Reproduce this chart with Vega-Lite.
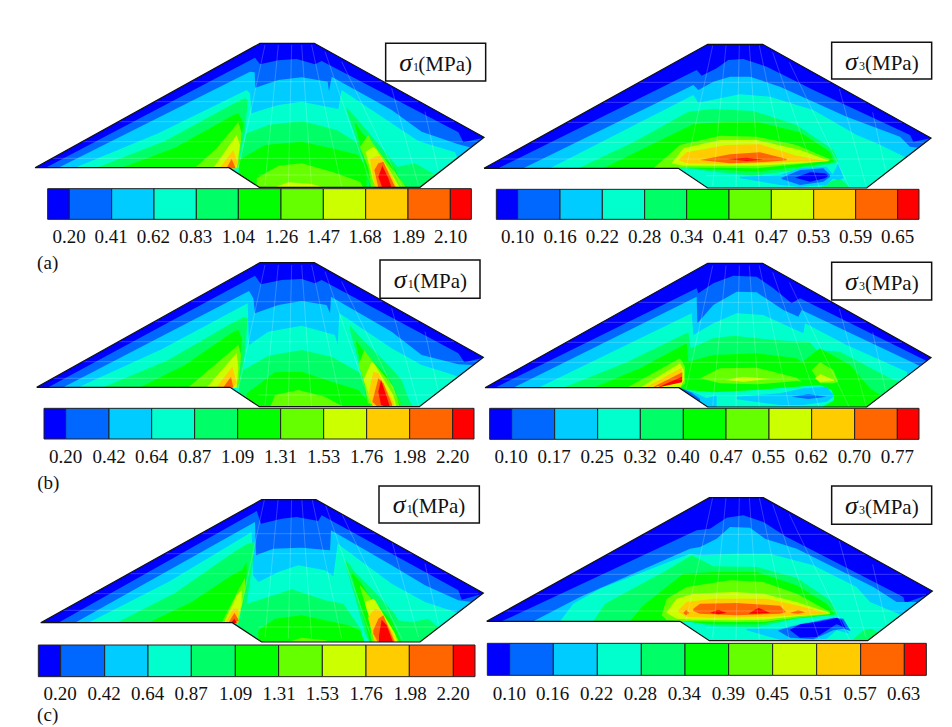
{"$schema":"https://vega.github.io/schema/vega-lite/v6.json","width":952,"height":727,"padding":0,"autosize":{"type":"none"},"background":"white","config":{"view":{"stroke":null}},
"datasets":{
"m1":[{"x":497,"y":140,"x2":1073,"y2":140},{"x":388,"y":200,"x2":1180,"y2":200},{"x":280,"y":260,"x2":1288,"y2":260},{"x":171,"y":320,"x2":1360,"y2":320},{"x":80,"y":370,"x2":1296,"y2":370},{"x":700,"y":420,"x2":1230,"y2":420},{"x":720,"y":30,"x2":640,"y2":400},{"x":760,"y":30,"x2":720,"y2":450},{"x":800,"y":30,"x2":790,"y2":455},{"x":830,"y":30,"x2":860,"y2":455},{"x":860,"y":30,"x2":950,"y2":455},{"x":900,"y":50,"x2":1040,"y2":455},{"x":950,"y":80,"x2":1130,"y2":455},{"x":1100,"y":160,"x2":1180,"y2":450},{"x":1200,"y":230,"x2":1240,"y2":410}],
"m3":[{"x":475,"y":142,"x2":1051,"y2":142},{"x":366,"y":202,"x2":1158,"y2":202},{"x":258,"y":262,"x2":1266,"y2":262},{"x":149,"y":322,"x2":1338,"y2":322},{"x":58,"y":372,"x2":1274,"y2":372},{"x":678,"y":422,"x2":1208,"y2":422},{"x":698,"y":32,"x2":618,"y2":402},{"x":738,"y":32,"x2":698,"y2":452},{"x":778,"y":32,"x2":768,"y2":457},{"x":808,"y":32,"x2":838,"y2":457},{"x":838,"y":32,"x2":928,"y2":457},{"x":878,"y":52,"x2":1018,"y2":457},{"x":928,"y":82,"x2":1108,"y2":457},{"x":1078,"y":162,"x2":1158,"y2":452},{"x":1178,"y":232,"x2":1218,"y2":412}],
"a1":[
{"id":0,"b":0,"x":30,"y":398,"y2":460},{"id":0,"b":0,"x":705,"y":25,"y2":460},{"id":0,"b":0,"x":868,"y":25,"y2":460},{"id":0,"b":0,"x":1377,"y":307,"y2":460},
{"id":1,"b":1,"x":62,"y":398,"y2":460},{"id":1,"b":1,"x":690,"y":68,"y2":460},{"id":1,"b":1,"x":705,"y":88,"y2":460},{"id":1,"b":1,"x":760,"y":76,"y2":460},{"id":1,"b":1,"x":815,"y":72,"y2":460},{"id":1,"b":1,"x":870,"y":88,"y2":460},{"id":1,"b":1,"x":890,"y":78,"y2":460},{"id":1,"b":1,"x":1300,"y":292,"y2":460},{"id":1,"b":1,"x":1315,"y":322,"y2":460},{"id":1,"b":1,"x":1377,"y":308,"y2":460},
{"id":2,"b":2,"x":100,"y":398,"y2":460},{"id":2,"b":2,"x":675,"y":110,"y2":460},{"id":2,"b":2,"x":689,"y":112,"y2":460},{"id":2,"b":2,"x":691,"y":158,"y2":460},{"id":2,"b":2,"x":760,"y":135,"y2":460},{"id":2,"b":2,"x":830,"y":127,"y2":460},{"id":2,"b":2,"x":908,"y":140,"y2":460},{"id":2,"b":2,"x":912,"y":168,"y2":460},{"id":2,"b":2,"x":920,"y":125,"y2":460},{"id":2,"b":2,"x":1100,"y":225,"y2":460},{"id":2,"b":2,"x":1190,"y":290,"y2":460},{"id":2,"b":2,"x":1300,"y":328,"y2":460},{"id":2,"b":2,"x":1340,"y":338,"y2":460},
{"id":3,"b":3,"x":150,"y":398,"y2":460},{"id":3,"b":3,"x":400,"y":295,"y2":460},{"id":3,"b":3,"x":665,"y":165,"y2":460},{"id":3,"b":3,"x":675,"y":175,"y2":460},{"id":3,"b":3,"x":680,"y":235,"y2":460},{"id":3,"b":3,"x":760,"y":210,"y2":460},{"id":3,"b":3,"x":830,"y":200,"y2":460},{"id":3,"b":3,"x":940,"y":222,"y2":460},{"id":3,"b":3,"x":950,"y":165,"y2":460},{"id":3,"b":3,"x":1180,"y":318,"y2":460},{"id":3,"b":3,"x":1290,"y":352,"y2":460},{"id":3,"b":3,"x":1300,"y":375,"y2":460},
{"id":4,"b":4,"x":215,"y":398,"y2":460},{"id":4,"b":4,"x":420,"y":318,"y2":460},{"id":4,"b":4,"x":625,"y":206,"y2":400},{"id":4,"b":4,"x":640,"y":199,"y2":380},{"id":4,"b":4,"x":660,"y":190,"y2":290},{"id":4,"b":4,"x":668,"y":195,"y2":200},
{"id":5,"b":4,"x":640,"y":380,"y2":458},{"id":5,"b":4,"x":665,"y":295,"y2":458},{"id":5,"b":4,"x":730,"y":270,"y2":458},{"id":5,"b":4,"x":830,"y":258,"y2":458},{"id":5,"b":4,"x":935,"y":285,"y2":458},{"id":5,"b":4,"x":1000,"y":325,"y2":458},{"id":5,"b":4,"x":1040,"y":375,"y2":458},
{"id":6,"b":4,"x":965,"y":218,"y2":225},{"id":6,"b":4,"x":990,"y":245,"y2":300},{"id":6,"b":4,"x":1005,"y":262,"y2":345},{"id":6,"b":4,"x":1100,"y":375,"y2":458},{"id":6,"b":4,"x":1118,"y":395,"y2":458},{"id":6,"b":4,"x":1170,"y":385,"y2":458},{"id":6,"b":4,"x":1232,"y":420,"y2":458},
{"id":7,"b":5,"x":290,"y":398,"y2":460},{"id":7,"b":5,"x":450,"y":338,"y2":460},{"id":7,"b":5,"x":600,"y":254,"y2":400},{"id":7,"b":5,"x":625,"y":240,"y2":395},{"id":7,"b":5,"x":640,"y":235,"y2":370},{"id":7,"b":5,"x":655,"y":265,"y2":270},
{"id":8,"b":5,"x":642,"y":375,"y2":458},{"id":8,"b":5,"x":720,"y":330,"y2":458},{"id":8,"b":5,"x":830,"y":320,"y2":458},{"id":8,"b":5,"x":930,"y":342,"y2":458},{"id":8,"b":5,"x":1000,"y":360,"y2":458},{"id":8,"b":5,"x":1025,"y":400,"y2":458},
{"id":9,"b":5,"x":990,"y":262,"y2":270},{"id":9,"b":5,"x":1005,"y":285,"y2":330},{"id":9,"b":5,"x":1025,"y":310,"y2":410},{"id":9,"b":5,"x":1035,"y":325,"y2":458},{"id":9,"b":5,"x":1105,"y":395,"y2":458},{"id":9,"b":5,"x":1130,"y":440,"y2":458},{"id":9,"b":5,"x":1150,"y":458,"y2":458},
{"id":10,"b":6,"x":695,"y":430,"y2":458},{"id":10,"b":6,"x":760,"y":392,"y2":458},{"id":10,"b":6,"x":830,"y":385,"y2":458},{"id":10,"b":6,"x":920,"y":410,"y2":458},{"id":10,"b":6,"x":1005,"y":440,"y2":458},{"id":10,"b":6,"x":1015,"y":458,"y2":458},
{"id":11,"b":6,"x":510,"y":398,"y2":400},{"id":11,"b":6,"x":575,"y":340,"y2":400},{"id":11,"b":6,"x":640,"y":262,"y2":400},{"id":11,"b":6,"x":650,"y":295,"y2":295},
{"id":12,"b":6,"x":1005,"y":335,"y2":335},{"id":12,"b":6,"x":1030,"y":300,"y2":400},{"id":12,"b":6,"x":1040,"y":320,"y2":458},{"id":12,"b":6,"x":1100,"y":400,"y2":458},{"id":12,"b":6,"x":1145,"y":458,"y2":458},
{"id":13,"b":7,"x":745,"y":458,"y2":458},{"id":13,"b":7,"x":790,"y":442,"y2":458},{"id":13,"b":7,"x":860,"y":447,"y2":458},{"id":13,"b":7,"x":900,"y":458,"y2":458},
{"id":14,"b":7,"x":565,"y":398,"y2":400},{"id":14,"b":7,"x":635,"y":300,"y2":400},{"id":14,"b":7,"x":645,"y":330,"y2":330},
{"id":15,"b":7,"x":1022,"y":350,"y2":350},{"id":15,"b":7,"x":1045,"y":335,"y2":440},{"id":15,"b":7,"x":1055,"y":345,"y2":458},{"id":15,"b":7,"x":1090,"y":400,"y2":458},{"id":15,"b":7,"x":1125,"y":458,"y2":458},
{"id":16,"b":8,"x":585,"y":398,"y2":400},{"id":16,"b":8,"x":625,"y":345,"y2":400},{"id":16,"b":8,"x":638,"y":385,"y2":385},
{"id":17,"b":8,"x":1035,"y":372,"y2":372},{"id":17,"b":8,"x":1050,"y":365,"y2":458},{"id":17,"b":8,"x":1065,"y":362,"y2":458},{"id":17,"b":8,"x":1100,"y":420,"y2":458},{"id":17,"b":8,"x":1115,"y":458,"y2":458},
{"id":18,"b":9,"x":605,"y":398,"y2":400},{"id":18,"b":9,"x":620,"y":372,"y2":400},{"id":18,"b":9,"x":632,"y":400,"y2":400},
{"id":19,"b":9,"x":1048,"y":405,"y2":405},{"id":19,"b":9,"x":1060,"y":385,"y2":458},{"id":19,"b":9,"x":1075,"y":380,"y2":458},{"id":19,"b":9,"x":1105,"y":445,"y2":458},{"id":19,"b":9,"x":1112,"y":458,"y2":458},
{"id":20,"b":10,"x":1060,"y":425,"y2":425},{"id":20,"b":10,"x":1072,"y":392,"y2":458},{"id":20,"b":10,"x":1090,"y":430,"y2":458},{"id":20,"b":10,"x":1100,"y":458,"y2":458}
],
"a3":[
{"id":0,"b":0,"x":12,"y":400,"y2":462},{"id":0,"b":0,"x":683,"y":28,"y2":462},{"id":0,"b":0,"x":848,"y":28,"y2":462},{"id":0,"b":0,"x":1353,"y":309,"y2":462},
{"id":1,"b":1,"x":55,"y":400,"y2":462},{"id":1,"b":1,"x":650,"y":105,"y2":462},{"id":1,"b":1,"x":665,"y":122,"y2":462},{"id":1,"b":1,"x":710,"y":100,"y2":462},{"id":1,"b":1,"x":745,"y":75,"y2":462},{"id":1,"b":1,"x":790,"y":72,"y2":462},{"id":1,"b":1,"x":860,"y":95,"y2":462},{"id":1,"b":1,"x":1000,"y":165,"y2":462},{"id":1,"b":1,"x":1290,"y":300,"y2":462},{"id":1,"b":1,"x":1300,"y":320,"y2":462},{"id":1,"b":1,"x":1353,"y":310,"y2":462},
{"id":2,"b":2,"x":130,"y":400,"y2":462},{"id":2,"b":2,"x":640,"y":150,"y2":462},{"id":2,"b":2,"x":655,"y":165,"y2":462},{"id":2,"b":2,"x":700,"y":140,"y2":462},{"id":2,"b":2,"x":750,"y":125,"y2":462},{"id":2,"b":2,"x":810,"y":125,"y2":462},{"id":2,"b":2,"x":900,"y":155,"y2":462},{"id":2,"b":2,"x":1100,"y":245,"y2":462},{"id":2,"b":2,"x":1260,"y":305,"y2":462},{"id":2,"b":2,"x":1290,"y":335,"y2":462},{"id":2,"b":2,"x":1315,"y":338,"y2":462},
{"id":3,"b":3,"x":210,"y":400,"y2":462},{"id":3,"b":3,"x":640,"y":180,"y2":462},{"id":3,"b":3,"x":655,"y":203,"y2":462},{"id":3,"b":3,"x":720,"y":190,"y2":462},{"id":3,"b":3,"x":780,"y":178,"y2":462},{"id":3,"b":3,"x":870,"y":185,"y2":462},{"id":3,"b":3,"x":1000,"y":225,"y2":462},{"id":3,"b":3,"x":1130,"y":300,"y2":462},{"id":3,"b":3,"x":1190,"y":325,"y2":462},{"id":3,"b":3,"x":1280,"y":368,"y2":462},
{"id":4,"b":4,"x":295,"y":400,"y2":400},{"id":4,"b":4,"x":460,"y":322,"y2":400},{"id":4,"b":4,"x":625,"y":230,"y2":400},{"id":4,"b":4,"x":700,"y":222,"y2":410},{"id":4,"b":4,"x":820,"y":228,"y2":422},{"id":4,"b":4,"x":950,"y":270,"y2":405},{"id":4,"b":4,"x":1060,"y":345,"y2":385},{"id":4,"b":4,"x":1075,"y":380,"y2":380},
{"id":5,"b":4,"x":1020,"y":458,"y2":458},{"id":5,"b":4,"x":1050,"y":440,"y2":458},{"id":5,"b":4,"x":1080,"y":430,"y2":458},{"id":5,"b":4,"x":1110,"y":458,"y2":458},
{"id":6,"b":2,"x":1055,"y":425,"y2":430},{"id":6,"b":2,"x":1075,"y":385,"y2":435},{"id":6,"b":2,"x":1090,"y":425,"y2":430},
{"id":7,"b":5,"x":370,"y":400,"y2":400},{"id":7,"b":5,"x":590,"y":292,"y2":400},{"id":7,"b":5,"x":640,"y":268,"y2":400},{"id":7,"b":5,"x":740,"y":260,"y2":406},{"id":7,"b":5,"x":830,"y":260,"y2":410},{"id":7,"b":5,"x":960,"y":292,"y2":395},{"id":7,"b":5,"x":1050,"y":350,"y2":384},{"id":7,"b":5,"x":1062,"y":380,"y2":380},
{"id":8,"b":6,"x":520,"y":400,"y2":400},{"id":8,"b":6,"x":600,"y":330,"y2":398},{"id":8,"b":6,"x":720,"y":302,"y2":398},{"id":8,"b":6,"x":830,"y":305,"y2":400},{"id":8,"b":6,"x":950,"y":330,"y2":388},{"id":8,"b":6,"x":1048,"y":372,"y2":378},
{"id":9,"b":7,"x":575,"y":385,"y2":385},{"id":9,"b":7,"x":610,"y":340,"y2":392},{"id":9,"b":7,"x":720,"y":315,"y2":392},{"id":9,"b":7,"x":830,"y":315,"y2":392},{"id":9,"b":7,"x":960,"y":345,"y2":385},{"id":9,"b":7,"x":1048,"y":378,"y2":378},
{"id":10,"b":8,"x":595,"y":375,"y2":375},{"id":10,"b":8,"x":620,"y":352,"y2":385},{"id":10,"b":8,"x":740,"y":330,"y2":388},{"id":10,"b":8,"x":840,"y":328,"y2":385},{"id":10,"b":8,"x":950,"y":362,"y2":380},{"id":10,"b":8,"x":1040,"y":378,"y2":378},
{"id":11,"b":9,"x":660,"y":375,"y2":375},{"id":11,"b":9,"x":750,"y":358,"y2":385},{"id":11,"b":9,"x":840,"y":352,"y2":382},{"id":11,"b":9,"x":920,"y":372,"y2":376},
{"id":12,"b":10,"x":740,"y":372,"y2":372},{"id":12,"b":10,"x":800,"y":368,"y2":378},{"id":12,"b":10,"x":850,"y":374,"y2":374},
{"id":13,"b":2,"x":780,"y":425,"y2":430},{"id":13,"b":2,"x":900,"y":420,"y2":450},{"id":13,"b":2,"x":960,"y":400,"y2":455},{"id":13,"b":2,"x":1040,"y":395,"y2":450},{"id":13,"b":2,"x":1060,"y":420,"y2":430},
{"id":14,"b":1,"x":905,"y":428,"y2":432},{"id":14,"b":1,"x":960,"y":405,"y2":450},{"id":14,"b":1,"x":1030,"y":400,"y2":440},{"id":14,"b":1,"x":1050,"y":420,"y2":425},
{"id":15,"b":0,"x":945,"y":428,"y2":428},{"id":15,"b":0,"x":990,"y":412,"y2":440},{"id":15,"b":0,"x":1035,"y":415,"y2":430},{"id":15,"b":0,"x":1045,"y":422,"y2":422}
],
"b1":[
{"id":0,"b":0,"x":35,"y":397,"y2":459},{"id":0,"b":0,"x":705,"y":23,"y2":459},{"id":0,"b":0,"x":868,"y":23,"y2":459},{"id":0,"b":0,"x":1375,"y":307,"y2":459},
{"id":1,"b":1,"x":70,"y":397,"y2":459},{"id":1,"b":1,"x":690,"y":62,"y2":459},{"id":1,"b":1,"x":708,"y":88,"y2":459},{"id":1,"b":1,"x":770,"y":75,"y2":459},{"id":1,"b":1,"x":830,"y":72,"y2":459},{"id":1,"b":1,"x":870,"y":85,"y2":459},{"id":1,"b":1,"x":890,"y":75,"y2":459},{"id":1,"b":1,"x":1300,"y":295,"y2":459},{"id":1,"b":1,"x":1318,"y":322,"y2":459},{"id":1,"b":1,"x":1375,"y":308,"y2":459},
{"id":2,"b":2,"x":115,"y":397,"y2":459},{"id":2,"b":2,"x":672,"y":108,"y2":459},{"id":2,"b":2,"x":685,"y":130,"y2":459},{"id":2,"b":2,"x":690,"y":175,"y2":459},{"id":2,"b":2,"x":760,"y":150,"y2":459},{"id":2,"b":2,"x":830,"y":138,"y2":459},{"id":2,"b":2,"x":905,"y":150,"y2":459},{"id":2,"b":2,"x":915,"y":175,"y2":459},{"id":2,"b":2,"x":918,"y":125,"y2":459},{"id":2,"b":2,"x":1100,"y":230,"y2":459},{"id":2,"b":2,"x":1190,"y":300,"y2":459},{"id":2,"b":2,"x":1300,"y":328,"y2":459},{"id":2,"b":2,"x":1345,"y":330,"y2":459},
{"id":3,"b":3,"x":160,"y":397,"y2":459},{"id":3,"b":3,"x":410,"y":283,"y2":459},{"id":3,"b":3,"x":668,"y":145,"y2":459},{"id":3,"b":3,"x":672,"y":270,"y2":459},{"id":3,"b":3,"x":730,"y":230,"y2":459},{"id":3,"b":3,"x":830,"y":212,"y2":459},{"id":3,"b":3,"x":930,"y":240,"y2":459},{"id":3,"b":3,"x":938,"y":270,"y2":459},{"id":3,"b":3,"x":943,"y":175,"y2":459},{"id":3,"b":3,"x":1100,"y":280,"y2":459},{"id":3,"b":3,"x":1190,"y":330,"y2":459},{"id":3,"b":3,"x":1270,"y":355,"y2":459},{"id":3,"b":3,"x":1300,"y":365,"y2":459},
{"id":4,"b":4,"x":235,"y":397,"y2":459},{"id":4,"b":4,"x":430,"y":315,"y2":459},{"id":4,"b":4,"x":620,"y":205,"y2":398},{"id":4,"b":4,"x":642,"y":194,"y2":385},{"id":4,"b":4,"x":655,"y":187,"y2":340},{"id":4,"b":4,"x":668,"y":190,"y2":195},
{"id":5,"b":4,"x":642,"y":385,"y2":458},{"id":5,"b":4,"x":655,"y":345,"y2":458},{"id":5,"b":4,"x":730,"y":302,"y2":458},{"id":5,"b":4,"x":830,"y":285,"y2":458},{"id":5,"b":4,"x":920,"y":305,"y2":458},{"id":5,"b":4,"x":1000,"y":350,"y2":458},{"id":5,"b":4,"x":1040,"y":400,"y2":458},
{"id":6,"b":4,"x":975,"y":212,"y2":225},{"id":6,"b":4,"x":1000,"y":240,"y2":320},{"id":6,"b":4,"x":1020,"y":262,"y2":400},{"id":6,"b":4,"x":1030,"y":270,"y2":458},{"id":6,"b":4,"x":1090,"y":330,"y2":458},{"id":6,"b":4,"x":1130,"y":375,"y2":458},{"id":6,"b":4,"x":1150,"y":430,"y2":458},{"id":6,"b":4,"x":1165,"y":458,"y2":458},
{"id":7,"b":5,"x":345,"y":397,"y2":459},{"id":7,"b":5,"x":480,"y":330,"y2":459},{"id":7,"b":5,"x":610,"y":240,"y2":398},{"id":7,"b":5,"x":630,"y":228,"y2":395},{"id":7,"b":5,"x":640,"y":225,"y2":385},{"id":7,"b":5,"x":650,"y":250,"y2":260},
{"id":8,"b":5,"x":665,"y":415,"y2":458},{"id":8,"b":5,"x":750,"y":352,"y2":458},{"id":8,"b":5,"x":830,"y":350,"y2":458},{"id":8,"b":5,"x":920,"y":380,"y2":458},{"id":8,"b":5,"x":1000,"y":405,"y2":458},{"id":8,"b":5,"x":1030,"y":440,"y2":458},
{"id":9,"b":5,"x":993,"y":255,"y2":265},{"id":9,"b":5,"x":1010,"y":280,"y2":340},{"id":9,"b":5,"x":1025,"y":300,"y2":440},{"id":9,"b":5,"x":1030,"y":305,"y2":458},{"id":9,"b":5,"x":1090,"y":365,"y2":458},{"id":9,"b":5,"x":1135,"y":458,"y2":458},
{"id":10,"b":6,"x":735,"y":458,"y2":458},{"id":10,"b":6,"x":750,"y":420,"y2":458},{"id":10,"b":6,"x":820,"y":405,"y2":458},{"id":10,"b":6,"x":900,"y":425,"y2":458},{"id":10,"b":6,"x":960,"y":458,"y2":458},
{"id":11,"b":6,"x":490,"y":397,"y2":399},{"id":11,"b":6,"x":640,"y":270,"y2":399},{"id":11,"b":6,"x":648,"y":300,"y2":300},
{"id":12,"b":6,"x":1000,"y":330,"y2":330},{"id":12,"b":6,"x":1018,"y":285,"y2":380},{"id":12,"b":6,"x":1028,"y":300,"y2":445},{"id":12,"b":6,"x":1105,"y":395,"y2":458},{"id":12,"b":6,"x":1125,"y":458,"y2":458},
{"id":13,"b":7,"x":545,"y":397,"y2":399},{"id":13,"b":7,"x":635,"y":295,"y2":399},{"id":13,"b":7,"x":640,"y":340,"y2":340},
{"id":14,"b":7,"x":1015,"y":375,"y2":375},{"id":14,"b":7,"x":1040,"y":320,"y2":440},{"id":14,"b":7,"x":1050,"y":330,"y2":458},{"id":14,"b":7,"x":1105,"y":420,"y2":458},{"id":14,"b":7,"x":1115,"y":458,"y2":458},
{"id":15,"b":8,"x":575,"y":397,"y2":399},{"id":15,"b":8,"x":622,"y":335,"y2":399},{"id":15,"b":8,"x":635,"y":385,"y2":385},
{"id":16,"b":8,"x":1030,"y":420,"y2":420},{"id":16,"b":8,"x":1045,"y":350,"y2":458},{"id":16,"b":8,"x":1060,"y":355,"y2":458},{"id":16,"b":8,"x":1105,"y":440,"y2":458},{"id":16,"b":8,"x":1110,"y":458,"y2":458},
{"id":17,"b":9,"x":595,"y":397,"y2":398},{"id":17,"b":9,"x":618,"y":365,"y2":398},{"id":17,"b":9,"x":625,"y":398,"y2":398},
{"id":18,"b":9,"x":1042,"y":440,"y2":440},{"id":18,"b":9,"x":1060,"y":370,"y2":458},{"id":18,"b":9,"x":1075,"y":385,"y2":458},{"id":18,"b":9,"x":1100,"y":445,"y2":458},{"id":18,"b":9,"x":1103,"y":458,"y2":458},
{"id":19,"b":10,"x":1060,"y":410,"y2":410},{"id":19,"b":10,"x":1068,"y":375,"y2":450},{"id":19,"b":10,"x":1090,"y":440,"y2":458},{"id":19,"b":10,"x":1095,"y":458,"y2":458}
],
"b3":[
{"id":0,"b":0,"x":15,"y":398,"y2":459},{"id":0,"b":0,"x":683,"y":25,"y2":459},{"id":0,"b":0,"x":848,"y":25,"y2":459},{"id":0,"b":0,"x":1353,"y":308,"y2":459},
{"id":1,"b":1,"x":45,"y":398,"y2":459},{"id":1,"b":1,"x":650,"y":100,"y2":459},{"id":1,"b":1,"x":655,"y":115,"y2":459},{"id":1,"b":1,"x":700,"y":85,"y2":459},{"id":1,"b":1,"x":760,"y":62,"y2":459},{"id":1,"b":1,"x":830,"y":65,"y2":459},{"id":1,"b":1,"x":880,"y":100,"y2":459},{"id":1,"b":1,"x":935,"y":145,"y2":459},{"id":1,"b":1,"x":960,"y":130,"y2":459},{"id":1,"b":1,"x":1340,"y":318,"y2":459},
{"id":2,"b":2,"x":100,"y":398,"y2":459},{"id":2,"b":2,"x":650,"y":125,"y2":459},{"id":2,"b":2,"x":652,"y":205,"y2":459},{"id":2,"b":2,"x":700,"y":150,"y2":459},{"id":2,"b":2,"x":770,"y":110,"y2":459},{"id":2,"b":2,"x":830,"y":112,"y2":459},{"id":2,"b":2,"x":910,"y":165,"y2":459},{"id":2,"b":2,"x":955,"y":185,"y2":459},{"id":2,"b":2,"x":965,"y":165,"y2":459},{"id":2,"b":2,"x":1320,"y":333,"y2":459},
{"id":3,"b":3,"x":175,"y":398,"y2":459},{"id":3,"b":3,"x":635,"y":175,"y2":459},{"id":3,"b":3,"x":640,"y":240,"y2":459},{"id":3,"b":3,"x":700,"y":205,"y2":459},{"id":3,"b":3,"x":770,"y":175,"y2":459},{"id":3,"b":3,"x":850,"y":180,"y2":459},{"id":3,"b":3,"x":970,"y":235,"y2":459},{"id":3,"b":3,"x":975,"y":205,"y2":459},{"id":3,"b":3,"x":1100,"y":270,"y2":459},{"id":3,"b":3,"x":1280,"y":350,"y2":459},{"id":3,"b":3,"x":1285,"y":368,"y2":459},
{"id":4,"b":4,"x":250,"y":398,"y2":459},{"id":4,"b":4,"x":440,"y":322,"y2":459},{"id":4,"b":4,"x":625,"y":232,"y2":459},{"id":4,"b":4,"x":632,"y":280,"y2":459},{"id":4,"b":4,"x":700,"y":250,"y2":459},{"id":4,"b":4,"x":760,"y":242,"y2":459},{"id":4,"b":4,"x":880,"y":255,"y2":459},{"id":4,"b":4,"x":990,"y":262,"y2":459},{"id":4,"b":4,"x":1010,"y":285,"y2":459},{"id":4,"b":4,"x":1080,"y":290,"y2":459},{"id":4,"b":4,"x":1240,"y":375,"y2":459},{"id":4,"b":4,"x":1255,"y":378,"y2":459},
{"id":5,"b":5,"x":340,"y":398,"y2":459},{"id":5,"b":5,"x":480,"y":340,"y2":459},{"id":5,"b":5,"x":620,"y":265,"y2":459},{"id":5,"b":5,"x":625,"y":320,"y2":459},{"id":5,"b":5,"x":700,"y":300,"y2":459},{"id":5,"b":5,"x":830,"y":295,"y2":459},{"id":5,"b":5,"x":950,"y":310,"y2":459},{"id":5,"b":5,"x":965,"y":322,"y2":459},{"id":5,"b":5,"x":1020,"y":280,"y2":459},{"id":5,"b":5,"x":1110,"y":330,"y2":459},{"id":5,"b":5,"x":1170,"y":400,"y2":459},{"id":5,"b":5,"x":1200,"y":420,"y2":459},
{"id":6,"b":3,"x":620,"y":405,"y2":445},{"id":6,"b":3,"x":700,"y":412,"y2":459},{"id":6,"b":3,"x":830,"y":405,"y2":459},{"id":6,"b":3,"x":950,"y":395,"y2":459},{"id":6,"b":3,"x":1020,"y":390,"y2":459},{"id":6,"b":3,"x":1055,"y":405,"y2":440},{"id":6,"b":3,"x":1062,"y":430,"y2":435},
{"id":7,"b":2,"x":600,"y":400,"y2":410},{"id":7,"b":2,"x":640,"y":412,"y2":445},{"id":7,"b":2,"x":680,"y":430,"y2":459},{"id":7,"b":2,"x":710,"y":420,"y2":459},
{"id":8,"b":1,"x":605,"y":400,"y2":404},{"id":8,"b":1,"x":635,"y":413,"y2":430},{"id":8,"b":1,"x":660,"y":432,"y2":445},
{"id":9,"b":2,"x":770,"y":425,"y2":433},{"id":9,"b":2,"x":900,"y":415,"y2":450},{"id":9,"b":2,"x":970,"y":400,"y2":450},{"id":9,"b":2,"x":1040,"y":395,"y2":440},{"id":9,"b":2,"x":1060,"y":420,"y2":425},
{"id":10,"b":1,"x":935,"y":425,"y2":425},{"id":10,"b":1,"x":985,"y":418,"y2":432},{"id":10,"b":1,"x":1040,"y":425,"y2":425},
{"id":11,"b":6,"x":440,"y":398,"y2":398},{"id":11,"b":6,"x":600,"y":310,"y2":398},{"id":11,"b":6,"x":615,"y":335,"y2":385},
{"id":12,"b":6,"x":660,"y":370,"y2":370},{"id":12,"b":6,"x":720,"y":340,"y2":385},{"id":12,"b":6,"x":830,"y":338,"y2":388},{"id":12,"b":6,"x":950,"y":368,"y2":378},{"id":12,"b":6,"x":965,"y":380,"y2":380},
{"id":13,"b":6,"x":995,"y":345,"y2":345},{"id":13,"b":6,"x":1020,"y":322,"y2":385},{"id":13,"b":6,"x":1060,"y":345,"y2":385},{"id":13,"b":6,"x":1075,"y":380,"y2":380},
{"id":14,"b":7,"x":1005,"y":370,"y2":370},{"id":14,"b":7,"x":1020,"y":357,"y2":382},{"id":14,"b":7,"x":1062,"y":375,"y2":378},
{"id":15,"b":7,"x":480,"y":398,"y2":398},{"id":15,"b":7,"x":600,"y":325,"y2":398},{"id":15,"b":7,"x":612,"y":345,"y2":375},
{"id":16,"b":7,"x":735,"y":375,"y2":375},{"id":16,"b":7,"x":790,"y":365,"y2":380},{"id":16,"b":7,"x":870,"y":372,"y2":372},
{"id":17,"b":8,"x":495,"y":398,"y2":398},{"id":17,"b":8,"x":605,"y":338,"y2":375},
{"id":18,"b":9,"x":515,"y":398,"y2":398},{"id":18,"b":9,"x":607,"y":352,"y2":378},
{"id":19,"b":10,"x":530,"y":398,"y2":398},{"id":19,"b":10,"x":606,"y":365,"y2":382}
],
"c1":[
{"id":0,"b":0,"x":47,"y":407,"y2":470},{"id":0,"b":0,"x":710,"y":38,"y2":470},{"id":0,"b":0,"x":873,"y":38,"y2":470},{"id":0,"b":0,"x":1375,"y":318,"y2":470},
{"id":1,"b":1,"x":100,"y":407,"y2":470},{"id":1,"b":1,"x":695,"y":72,"y2":470},{"id":1,"b":1,"x":708,"y":110,"y2":470},{"id":1,"b":1,"x":770,"y":95,"y2":470},{"id":1,"b":1,"x":815,"y":90,"y2":470},{"id":1,"b":1,"x":880,"y":102,"y2":470},{"id":1,"b":1,"x":890,"y":85,"y2":470},{"id":1,"b":1,"x":1300,"y":310,"y2":470},{"id":1,"b":1,"x":1310,"y":338,"y2":470},{"id":1,"b":1,"x":1375,"y":320,"y2":470},
{"id":2,"b":2,"x":150,"y":407,"y2":470},{"id":2,"b":2,"x":690,"y":105,"y2":470},{"id":2,"b":2,"x":693,"y":205,"y2":470},{"id":2,"b":2,"x":745,"y":185,"y2":470},{"id":2,"b":2,"x":830,"y":182,"y2":470},{"id":2,"b":2,"x":915,"y":190,"y2":470},{"id":2,"b":2,"x":918,"y":130,"y2":470},{"id":2,"b":2,"x":1100,"y":235,"y2":470},{"id":2,"b":2,"x":1200,"y":295,"y2":470},{"id":2,"b":2,"x":1300,"y":340,"y2":470},{"id":2,"b":2,"x":1340,"y":345,"y2":470},
{"id":3,"b":3,"x":190,"y":407,"y2":470},{"id":3,"b":3,"x":430,"y":285,"y2":470},{"id":3,"b":3,"x":680,"y":135,"y2":470},{"id":3,"b":3,"x":684,"y":265,"y2":470},{"id":3,"b":3,"x":700,"y":285,"y2":470},{"id":3,"b":3,"x":760,"y":255,"y2":470},{"id":3,"b":3,"x":820,"y":235,"y2":470},{"id":3,"b":3,"x":900,"y":250,"y2":470},{"id":3,"b":3,"x":925,"y":268,"y2":470},{"id":3,"b":3,"x":938,"y":170,"y2":470},{"id":3,"b":3,"x":1100,"y":290,"y2":470},{"id":3,"b":3,"x":1200,"y":345,"y2":470},{"id":3,"b":3,"x":1300,"y":378,"y2":470},
{"id":4,"b":4,"x":275,"y":407,"y2":470},{"id":4,"b":4,"x":450,"y":318,"y2":470},{"id":4,"b":4,"x":630,"y":193,"y2":407},{"id":4,"b":4,"x":650,"y":181,"y2":383},{"id":4,"b":4,"x":665,"y":172,"y2":350},{"id":4,"b":4,"x":688,"y":165,"y2":190},
{"id":5,"b":4,"x":640,"y":405,"y2":468},{"id":5,"b":4,"x":665,"y":350,"y2":468},{"id":5,"b":4,"x":700,"y":340,"y2":468},{"id":5,"b":4,"x":800,"y":307,"y2":468},{"id":5,"b":4,"x":900,"y":340,"y2":468},{"id":5,"b":4,"x":955,"y":350,"y2":468},{"id":5,"b":4,"x":1010,"y":430,"y2":468},
{"id":6,"b":4,"x":962,"y":218,"y2":235},{"id":6,"b":4,"x":990,"y":255,"y2":330},{"id":6,"b":4,"x":1020,"y":285,"y2":440},{"id":6,"b":4,"x":1035,"y":300,"y2":468},{"id":6,"b":4,"x":1105,"y":375,"y2":468},{"id":6,"b":4,"x":1120,"y":400,"y2":468},{"id":6,"b":4,"x":1160,"y":405,"y2":468},{"id":6,"b":4,"x":1210,"y":395,"y2":468},{"id":6,"b":4,"x":1240,"y":422,"y2":468},
{"id":7,"b":5,"x":370,"y":407,"y2":470},{"id":7,"b":5,"x":500,"y":345,"y2":470},{"id":7,"b":5,"x":625,"y":262,"y2":407},{"id":7,"b":5,"x":650,"y":250,"y2":370},{"id":7,"b":5,"x":665,"y":225,"y2":260},
{"id":8,"b":5,"x":700,"y":430,"y2":468},{"id":8,"b":5,"x":750,"y":395,"y2":468},{"id":8,"b":5,"x":830,"y":385,"y2":468},{"id":8,"b":5,"x":900,"y":400,"y2":468},{"id":8,"b":5,"x":970,"y":415,"y2":468},{"id":8,"b":5,"x":1005,"y":430,"y2":468},{"id":8,"b":5,"x":1020,"y":468,"y2":468},
{"id":9,"b":5,"x":980,"y":255,"y2":265},{"id":9,"b":5,"x":1010,"y":290,"y2":370},{"id":9,"b":5,"x":1035,"y":330,"y2":468},{"id":9,"b":5,"x":1100,"y":400,"y2":468},{"id":9,"b":5,"x":1130,"y":468,"y2":468},
{"id":10,"b":6,"x":780,"y":468,"y2":468},{"id":10,"b":6,"x":830,"y":452,"y2":468},{"id":10,"b":6,"x":900,"y":460,"y2":468},{"id":10,"b":6,"x":930,"y":468,"y2":468},
{"id":11,"b":6,"x":590,"y":407,"y2":409},{"id":11,"b":6,"x":640,"y":310,"y2":409},{"id":11,"b":6,"x":660,"y":272,"y2":310},
{"id":12,"b":6,"x":1005,"y":295,"y2":300},{"id":12,"b":6,"x":1035,"y":330,"y2":400},{"id":12,"b":6,"x":1040,"y":340,"y2":468},{"id":12,"b":6,"x":1090,"y":405,"y2":468},{"id":12,"b":6,"x":1125,"y":468,"y2":468},
{"id":13,"b":7,"x":600,"y":400,"y2":409},{"id":13,"b":7,"x":635,"y":325,"y2":409},{"id":13,"b":7,"x":650,"y":310,"y2":350},
{"id":14,"b":7,"x":1020,"y":345,"y2":350},{"id":14,"b":7,"x":1045,"y":335,"y2":430},{"id":14,"b":7,"x":1050,"y":340,"y2":468},{"id":14,"b":7,"x":1110,"y":440,"y2":468},{"id":14,"b":7,"x":1118,"y":468,"y2":468},
{"id":15,"b":8,"x":605,"y":400,"y2":409},{"id":15,"b":8,"x":625,"y":365,"y2":409},{"id":15,"b":8,"x":640,"y":365,"y2":385},
{"id":16,"b":8,"x":1030,"y":390,"y2":395},{"id":16,"b":8,"x":1050,"y":365,"y2":468},{"id":16,"b":8,"x":1065,"y":370,"y2":468},{"id":16,"b":8,"x":1105,"y":440,"y2":468},{"id":16,"b":8,"x":1112,"y":468,"y2":468},
{"id":17,"b":9,"x":612,"y":405,"y2":409},{"id":17,"b":9,"x":628,"y":378,"y2":409},{"id":17,"b":9,"x":642,"y":400,"y2":400},
{"id":18,"b":9,"x":1045,"y":430,"y2":440},{"id":18,"b":9,"x":1060,"y":395,"y2":468},{"id":18,"b":9,"x":1075,"y":385,"y2":468},{"id":18,"b":9,"x":1105,"y":455,"y2":468},{"id":18,"b":9,"x":1110,"y":468,"y2":468},
{"id":19,"b":10,"x":620,"y":405,"y2":409},{"id":19,"b":10,"x":628,"y":395,"y2":409},{"id":19,"b":10,"x":635,"y":407,"y2":409},
{"id":20,"b":10,"x":1062,"y":445,"y2":468},{"id":20,"b":10,"x":1070,"y":398,"y2":468},{"id":20,"b":10,"x":1085,"y":415,"y2":468},{"id":20,"b":10,"x":1105,"y":468,"y2":468}
],
"c3":[
{"id":0,"b":0,"x":20,"y":403,"y2":466},{"id":0,"b":0,"x":688,"y":32,"y2":466},{"id":0,"b":0,"x":850,"y":32,"y2":466},{"id":0,"b":0,"x":1357,"y":312,"y2":466},
{"id":1,"b":1,"x":65,"y":403,"y2":466},{"id":1,"b":1,"x":650,"y":130,"y2":466},{"id":1,"b":1,"x":690,"y":125,"y2":466},{"id":1,"b":1,"x":740,"y":92,"y2":466},{"id":1,"b":1,"x":790,"y":85,"y2":466},{"id":1,"b":1,"x":850,"y":105,"y2":466},{"id":1,"b":1,"x":920,"y":150,"y2":466},{"id":1,"b":1,"x":1270,"y":330,"y2":466},{"id":1,"b":1,"x":1275,"y":348,"y2":466},{"id":1,"b":1,"x":1340,"y":325,"y2":466},
{"id":2,"b":2,"x":160,"y":403,"y2":466},{"id":2,"b":2,"x":300,"y":330,"y2":466},{"id":2,"b":2,"x":630,"y":185,"y2":466},{"id":2,"b":2,"x":660,"y":180,"y2":466},{"id":2,"b":2,"x":710,"y":155,"y2":466},{"id":2,"b":2,"x":750,"y":120,"y2":466},{"id":2,"b":2,"x":810,"y":122,"y2":466},{"id":2,"b":2,"x":855,"y":155,"y2":466},{"id":2,"b":2,"x":950,"y":185,"y2":466},{"id":2,"b":2,"x":1180,"y":300,"y2":466},{"id":2,"b":2,"x":1250,"y":345,"y2":466},{"id":2,"b":2,"x":1310,"y":345,"y2":466},
{"id":3,"b":3,"x":240,"y":403,"y2":466},{"id":3,"b":3,"x":280,"y":350,"y2":466},{"id":3,"b":3,"x":360,"y":305,"y2":466},{"id":3,"b":3,"x":630,"y":200,"y2":466},{"id":3,"b":3,"x":660,"y":205,"y2":466},{"id":3,"b":3,"x":770,"y":200,"y2":466},{"id":3,"b":3,"x":870,"y":200,"y2":466},{"id":3,"b":3,"x":1000,"y":235,"y2":466},{"id":3,"b":3,"x":1130,"y":300,"y2":466},{"id":3,"b":3,"x":1170,"y":345,"y2":466},{"id":3,"b":3,"x":1265,"y":385,"y2":466},
{"id":4,"b":4,"x":340,"y":403,"y2":403},{"id":4,"b":4,"x":375,"y":350,"y2":403},{"id":4,"b":4,"x":560,"y":250,"y2":403},{"id":4,"b":4,"x":635,"y":205,"y2":405},{"id":4,"b":4,"x":700,"y":238,"y2":418},{"id":4,"b":4,"x":830,"y":240,"y2":420},{"id":4,"b":4,"x":950,"y":272,"y2":395},{"id":4,"b":4,"x":1050,"y":340,"y2":385},{"id":4,"b":4,"x":1075,"y":382,"y2":382},
{"id":5,"b":4,"x":1115,"y":461,"y2":461},{"id":5,"b":4,"x":1150,"y":430,"y2":461},{"id":5,"b":4,"x":1175,"y":425,"y2":461},{"id":5,"b":4,"x":1200,"y":440,"y2":440},
{"id":6,"b":5,"x":450,"y":403,"y2":403},{"id":6,"b":5,"x":490,"y":355,"y2":403},{"id":6,"b":5,"x":610,"y":260,"y2":403},{"id":6,"b":5,"x":700,"y":255,"y2":412},{"id":6,"b":5,"x":830,"y":255,"y2":412},{"id":6,"b":5,"x":950,"y":295,"y2":393},{"id":6,"b":5,"x":1040,"y":350,"y2":385},{"id":6,"b":5,"x":1065,"y":382,"y2":382},
{"id":7,"b":6,"x":545,"y":385,"y2":385},{"id":7,"b":6,"x":560,"y":335,"y2":400},{"id":7,"b":6,"x":620,"y":300,"y2":403},{"id":7,"b":6,"x":750,"y":280,"y2":405},{"id":7,"b":6,"x":850,"y":285,"y2":405},{"id":7,"b":6,"x":950,"y":320,"y2":392},{"id":7,"b":6,"x":1050,"y":375,"y2":382},
{"id":8,"b":7,"x":560,"y":375,"y2":378},{"id":8,"b":7,"x":590,"y":335,"y2":395},{"id":8,"b":7,"x":640,"y":320,"y2":398},{"id":8,"b":7,"x":760,"y":315,"y2":400},{"id":8,"b":7,"x":850,"y":320,"y2":398},{"id":8,"b":7,"x":950,"y":345,"y2":388},{"id":8,"b":7,"x":1050,"y":378,"y2":380},
{"id":9,"b":8,"x":595,"y":370,"y2":375},{"id":9,"b":8,"x":620,"y":345,"y2":390},{"id":9,"b":8,"x":700,"y":335,"y2":392},{"id":9,"b":8,"x":860,"y":335,"y2":390},{"id":9,"b":8,"x":950,"y":355,"y2":385},{"id":9,"b":8,"x":1040,"y":378,"y2":380},
{"id":10,"b":9,"x":640,"y":365,"y2":372},{"id":10,"b":9,"x":660,"y":350,"y2":380},{"id":10,"b":9,"x":770,"y":348,"y2":385},{"id":10,"b":9,"x":900,"y":356,"y2":380},{"id":10,"b":9,"x":918,"y":375,"y2":375},
{"id":11,"b":9,"x":930,"y":378,"y2":378},{"id":11,"b":9,"x":955,"y":370,"y2":380},{"id":11,"b":9,"x":975,"y":376,"y2":376},
{"id":12,"b":9,"x":610,"y":378,"y2":378},{"id":12,"b":9,"x":618,"y":368,"y2":385},{"id":12,"b":9,"x":628,"y":378,"y2":378},
{"id":13,"b":10,"x":690,"y":378,"y2":378},{"id":13,"b":10,"x":715,"y":368,"y2":382},{"id":13,"b":10,"x":740,"y":378,"y2":378},
{"id":14,"b":10,"x":805,"y":380,"y2":380},{"id":14,"b":10,"x":835,"y":362,"y2":380},{"id":14,"b":10,"x":870,"y":378,"y2":378},
{"id":15,"b":2,"x":800,"y":425,"y2":430},{"id":15,"b":2,"x":900,"y":425,"y2":458},{"id":15,"b":2,"x":960,"y":410,"y2":460},{"id":15,"b":2,"x":1040,"y":395,"y2":455},{"id":15,"b":2,"x":1070,"y":400,"y2":430},{"id":15,"b":2,"x":1110,"y":440,"y2":440},
{"id":16,"b":1,"x":895,"y":430,"y2":432},{"id":16,"b":1,"x":930,"y":420,"y2":452},{"id":16,"b":1,"x":1000,"y":405,"y2":457},{"id":16,"b":1,"x":1060,"y":392,"y2":430},{"id":16,"b":1,"x":1090,"y":395,"y2":425},{"id":16,"b":1,"x":1112,"y":432,"y2":432},
{"id":17,"b":0,"x":930,"y":428,"y2":430},{"id":17,"b":0,"x":960,"y":412,"y2":452},{"id":17,"b":0,"x":1010,"y":405,"y2":450},{"id":17,"b":0,"x":1060,"y":395,"y2":418},{"id":17,"b":0,"x":1070,"y":392,"y2":412},{"id":17,"b":0,"x":1085,"y":400,"y2":418},{"id":17,"b":0,"x":1098,"y":425,"y2":425}
]
},
"resolve":{"scale":{"x":"independent","y":"independent"}},
"layer":[
{"encoding":{"x":{"field":"x","type":"quantitative","axis":null,"scale":{"domain":[-75,2781],"nice":false,"zero":false}},"y":{"field":"y","type":"quantitative","axis":null,"scale":{"domain":[2076,-105],"nice":false,"zero":false}}},
"layer":[
{"data":{"name":"a1"},"mark":{"type":"area","interpolate":"linear"},"encoding":{"y2":{"field":"y2"},"detail":{"field":"id"},"color":{"field":"b","type":"ordinal","legend":null,"scale":{"domain":[0,1,2,3,4,5,6,7,8,9,10],"range":["#0000ff","#0068ff","#00ccff","#00ffcc","#00ff66","#00ff00","#66ff00","#ccff00","#ffcc00","#ff6600","#ff0000"]}}}},
{"data":{"name":"m1"},"mark":{"type":"rule","color":"white","opacity":0.3,"strokeWidth":0.7},"encoding":{"x2":{"field":"x2"},"y2":{"field":"y2"}}},
{"data":{"values":[{"x":24,"y":398,"y2":463},{"x":612,"y":398,"y2":463},{"x":703,"y":457,"y2":463},{"x":1185,"y":457,"y2":463},{"x":1377,"y":307,"y2":463},{"x":1383,"y":307,"y2":463}]},"mark":{"type":"area","color":"white"},"encoding":{"y2":{"field":"y2"}}},
{"data":{"values":[{"n":1,"x":30,"y":398},{"n":2,"x":705,"y":25},{"n":3,"x":868,"y":25},{"n":4,"x":1377,"y":307},{"n":5,"x":1185,"y":457},{"n":6,"x":703,"y":457},{"n":7,"x":612,"y":398},{"n":8,"x":30,"y":398}]},"mark":{"type":"line","color":"#111","strokeWidth":1.2},"encoding":{"order":{"field":"n"}}},
{"data":{"values":[{"b":0,"x":68,"x2":133,"y":461,"y2":553},{"b":1,"x":133,"x2":260,"y":461,"y2":553},{"b":2,"x":260,"x2":387,"y":461,"y2":553},{"b":3,"x":387,"x2":514,"y":461,"y2":553},{"b":4,"x":514,"x2":640,"y":461,"y2":553},{"b":5,"x":640,"x2":768,"y":461,"y2":553},{"b":6,"x":768,"x2":895,"y":461,"y2":553},{"b":7,"x":895,"x2":1022,"y":461,"y2":553},{"b":8,"x":1022,"x2":1149,"y":461,"y2":553},{"b":9,"x":1149,"x2":1276,"y":461,"y2":553},{"b":10,"x":1276,"x2":1339,"y":461,"y2":553}]},"mark":{"type":"rect","stroke":"#222","strokeWidth":1},"encoding":{"x2":{"field":"x2"},"y2":{"field":"y2"},"color":{"field":"b","type":"ordinal","legend":null}}},
{"data":{"values":[{"x":132,"y":605,"t":"0.20"},{"x":258,"y":605,"t":"0.41"},{"x":385,"y":605,"t":"0.62"},{"x":512,"y":605,"t":"0.83"},{"x":640,"y":605,"t":"1.04"},{"x":770,"y":605,"t":"1.26"},{"x":895,"y":605,"t":"1.47"},{"x":1020,"y":605,"t":"1.68"},{"x":1150,"y":605,"t":"1.89"},{"x":1277,"y":605,"t":"2.10"},{"x":68,"y":685,"t":"(a)"}]},"mark":{"type":"text","font":"Liberation Serif","fontSize":19,"color":"#111"},"encoding":{"text":{"field":"t"}}},
{"data":{"values":[{"x":1082,"x2":1382,"y":25,"y2":138}]},"mark":{"type":"rect","fill":"white","stroke":"#111","strokeWidth":1.5},"encoding":{"x2":{"field":"x2"},"y2":{"field":"y2"}}},
{"data":{"values":[{"x":1123,"y":108,"t":"σ"}]},"mark":{"type":"text","align":"left","baseline":"alphabetic","font":"Liberation Serif","fontStyle":"italic","fontSize":26,"color":"#111"},"encoding":{"text":{"field":"t"}}},
{"data":{"values":[{"x":1164,"y":108,"t":"1"}]},"mark":{"type":"text","align":"left","baseline":"alphabetic","font":"Liberation Serif","fontSize":12,"color":"#111"},"encoding":{"text":{"field":"t"}}},
{"data":{"values":[{"x":1180,"y":108,"t":"(MPa)"}]},"mark":{"type":"text","align":"left","baseline":"alphabetic","font":"Liberation Serif","fontSize":21,"color":"#111"},"encoding":{"text":{"field":"t"}}}
]},
{"encoding":{"x":{"field":"x","type":"quantitative","axis":null,"scale":{"domain":[-1440,1416],"nice":false,"zero":false}},"y":{"field":"y","type":"quantitative","axis":null,"scale":{"domain":[2076,-105],"nice":false,"zero":false}}},
"layer":[
{"data":{"name":"a3"},"mark":{"type":"area","interpolate":"linear"},"encoding":{"y2":{"field":"y2"},"detail":{"field":"id"},"color":{"field":"b","type":"ordinal","legend":null}}},
{"data":{"name":"m3"},"mark":{"type":"rule","color":"white","opacity":0.3,"strokeWidth":0.7},"encoding":{"x2":{"field":"x2"},"y2":{"field":"y2"}}},
{"data":{"values":[{"x":6,"y":400,"y2":464},{"x":595,"y":400,"y2":464},{"x":683,"y":459,"y2":464},{"x":1160,"y":459,"y2":464},{"x":1353,"y":309,"y2":464},{"x":1359,"y":309,"y2":464}]},"mark":{"type":"area","color":"white"},"encoding":{"y2":{"field":"y2"}}},
{"data":{"values":[{"n":1,"x":12,"y":400},{"n":2,"x":683,"y":28},{"n":3,"x":848,"y":28},{"n":4,"x":1353,"y":309},{"n":5,"x":1160,"y":459},{"n":6,"x":683,"y":459},{"n":7,"x":595,"y":400},{"n":8,"x":12,"y":400}]},"mark":{"type":"line","color":"#111","strokeWidth":1.2},"encoding":{"order":{"field":"n"}}},
{"data":{"values":[{"b":0,"x":49,"x2":113,"y":463,"y2":553},{"b":1,"x":113,"x2":240,"y":463,"y2":553},{"b":2,"x":240,"x2":367,"y":463,"y2":553},{"b":3,"x":367,"x2":494,"y":463,"y2":553},{"b":4,"x":494,"x2":620,"y":463,"y2":553},{"b":5,"x":620,"x2":747,"y":463,"y2":553},{"b":6,"x":747,"x2":874,"y":463,"y2":553},{"b":7,"x":874,"x2":1001,"y":463,"y2":553},{"b":8,"x":1001,"x2":1127,"y":463,"y2":553},{"b":9,"x":1127,"x2":1253,"y":463,"y2":553},{"b":10,"x":1253,"x2":1317,"y":463,"y2":553}]},"mark":{"type":"rect","stroke":"#222","strokeWidth":1},"encoding":{"x2":{"field":"x2"},"y2":{"field":"y2"},"color":{"field":"b","type":"ordinal","legend":null}}},
{"data":{"values":[{"x":113,"y":607,"t":"0.10"},{"x":240,"y":607,"t":"0.16"},{"x":367,"y":607,"t":"0.22"},{"x":494,"y":607,"t":"0.28"},{"x":620,"y":607,"t":"0.34"},{"x":747,"y":607,"t":"0.41"},{"x":874,"y":607,"t":"0.47"},{"x":1001,"y":607,"t":"0.53"},{"x":1127,"y":607,"t":"0.59"},{"x":1253,"y":607,"t":"0.65"}]},"mark":{"type":"text","font":"Liberation Serif","fontSize":19,"color":"#111"},"encoding":{"text":{"field":"t"}}},
{"data":{"values":[{"x":1055,"x2":1355,"y":22,"y2":132}]},"mark":{"type":"rect","fill":"white","stroke":"#111","strokeWidth":1.5},"encoding":{"x2":{"field":"x2"},"y2":{"field":"y2"}}},
{"data":{"values":[{"x":1095,"y":104,"t":"σ"}]},"mark":{"type":"text","align":"left","baseline":"alphabetic","font":"Liberation Serif","fontStyle":"italic","fontSize":26,"color":"#111"},"encoding":{"text":{"field":"t"}}},
{"data":{"values":[{"x":1137,"y":104,"t":"3"}]},"mark":{"type":"text","align":"left","baseline":"alphabetic","font":"Liberation Serif","fontSize":12,"color":"#111"},"encoding":{"text":{"field":"t"}}},
{"data":{"values":[{"x":1155,"y":104,"t":"(MPa)"}]},"mark":{"type":"text","align":"left","baseline":"alphabetic","font":"Liberation Serif","fontSize":21,"color":"#111"},"encoding":{"text":{"field":"t"}}}
]},
{"encoding":{"x":{"field":"x","type":"quantitative","axis":null,"scale":{"domain":[-75,2781],"nice":false,"zero":false}},"y":{"field":"y","type":"quantitative","axis":null,"scale":{"domain":[1416,-765],"nice":false,"zero":false}}},
"layer":[
{"data":{"name":"b1"},"mark":{"type":"area","interpolate":"linear"},"encoding":{"y2":{"field":"y2"},"detail":{"field":"id"},"color":{"field":"b","type":"ordinal","legend":null}}},
{"data":{"name":"m1"},"mark":{"type":"rule","color":"white","opacity":0.3,"strokeWidth":0.7},"encoding":{"x2":{"field":"x2"},"y2":{"field":"y2"}}},
{"data":{"values":[{"x":29,"y":397,"y2":461},{"x":615,"y":397,"y2":461},{"x":703,"y":455,"y2":461},{"x":1183,"y":455,"y2":461},{"x":1375,"y":307,"y2":461},{"x":1381,"y":307,"y2":461}]},"mark":{"type":"area","color":"white"},"encoding":{"y2":{"field":"y2"}}},
{"data":{"values":[{"n":1,"x":35,"y":397},{"n":2,"x":705,"y":23},{"n":3,"x":868,"y":23},{"n":4,"x":1375,"y":307},{"n":5,"x":1183,"y":455},{"n":6,"x":703,"y":455},{"n":7,"x":615,"y":397},{"n":8,"x":35,"y":397}]},"mark":{"type":"line","color":"#111","strokeWidth":1.2},"encoding":{"order":{"field":"n"}}},
{"data":{"values":[{"b":0,"x":57,"x2":122,"y":460,"y2":552},{"b":1,"x":122,"x2":252,"y":460,"y2":552},{"b":2,"x":252,"x2":380,"y":460,"y2":552},{"b":3,"x":380,"x2":509,"y":460,"y2":552},{"b":4,"x":509,"x2":638,"y":460,"y2":552},{"b":5,"x":638,"x2":767,"y":460,"y2":552},{"b":6,"x":767,"x2":896,"y":460,"y2":552},{"b":7,"x":896,"x2":1025,"y":460,"y2":552},{"b":8,"x":1025,"x2":1154,"y":460,"y2":552},{"b":9,"x":1154,"x2":1283,"y":460,"y2":552},{"b":10,"x":1283,"x2":1347,"y":460,"y2":552}]},"mark":{"type":"rect","stroke":"#222","strokeWidth":1},"encoding":{"x2":{"field":"x2"},"y2":{"field":"y2"},"color":{"field":"b","type":"ordinal","legend":null}}},
{"data":{"values":[{"x":122,"y":605,"t":"0.20"},{"x":252,"y":605,"t":"0.42"},{"x":380,"y":605,"t":"0.64"},{"x":509,"y":605,"t":"0.87"},{"x":638,"y":605,"t":"1.09"},{"x":767,"y":605,"t":"1.31"},{"x":896,"y":605,"t":"1.53"},{"x":1025,"y":605,"t":"1.76"},{"x":1154,"y":605,"t":"1.98"},{"x":1283,"y":605,"t":"2.20"},{"x":70,"y":685,"t":"(b)"}]},"mark":{"type":"text","font":"Liberation Serif","fontSize":19,"color":"#111"},"encoding":{"text":{"field":"t"}}},
{"data":{"values":[{"x":1065,"x2":1365,"y":15,"y2":130}]},"mark":{"type":"rect","fill":"white","stroke":"#111","strokeWidth":1.5},"encoding":{"x2":{"field":"x2"},"y2":{"field":"y2"}}},
{"data":{"values":[{"x":1106,"y":99,"t":"σ"}]},"mark":{"type":"text","align":"left","baseline":"alphabetic","font":"Liberation Serif","fontStyle":"italic","fontSize":26,"color":"#111"},"encoding":{"text":{"field":"t"}}},
{"data":{"values":[{"x":1148,"y":99,"t":"1"}]},"mark":{"type":"text","align":"left","baseline":"alphabetic","font":"Liberation Serif","fontSize":12,"color":"#111"},"encoding":{"text":{"field":"t"}}},
{"data":{"values":[{"x":1165,"y":99,"t":"(MPa)"}]},"mark":{"type":"text","align":"left","baseline":"alphabetic","font":"Liberation Serif","fontSize":21,"color":"#111"},"encoding":{"text":{"field":"t"}}}
]},
{"encoding":{"x":{"field":"x","type":"quantitative","axis":null,"scale":{"domain":[-1440,1416],"nice":false,"zero":false}},"y":{"field":"y","type":"quantitative","axis":null,"scale":{"domain":[1416,-765],"nice":false,"zero":false}}},
"layer":[
{"data":{"name":"b3"},"mark":{"type":"area","interpolate":"linear"},"encoding":{"y2":{"field":"y2"},"detail":{"field":"id"},"color":{"field":"b","type":"ordinal","legend":null}}},
{"data":{"name":"m3"},"mark":{"type":"rule","color":"white","opacity":0.3,"strokeWidth":0.7},"encoding":{"x2":{"field":"x2"},"y2":{"field":"y2"}}},
{"data":{"values":[{"x":9,"y":398,"y2":461},{"x":597,"y":398,"y2":461},{"x":683,"y":456,"y2":461},{"x":1160,"y":456,"y2":461},{"x":1353,"y":308,"y2":461},{"x":1359,"y":308,"y2":461}]},"mark":{"type":"area","color":"white"},"encoding":{"y2":{"field":"y2"}}},
{"data":{"values":[{"n":1,"x":15,"y":398},{"n":2,"x":683,"y":25},{"n":3,"x":848,"y":25},{"n":4,"x":1353,"y":308},{"n":5,"x":1160,"y":456},{"n":6,"x":683,"y":456},{"n":7,"x":597,"y":398},{"n":8,"x":15,"y":398}]},"mark":{"type":"line","color":"#111","strokeWidth":1.2},"encoding":{"order":{"field":"n"}}},
{"data":{"values":[{"b":0,"x":29,"x2":95,"y":460,"y2":553},{"b":1,"x":95,"x2":224,"y":460,"y2":553},{"b":2,"x":224,"x2":353,"y":460,"y2":553},{"b":3,"x":353,"x2":481,"y":460,"y2":553},{"b":4,"x":481,"x2":610,"y":460,"y2":553},{"b":5,"x":610,"x2":738,"y":460,"y2":553},{"b":6,"x":738,"x2":867,"y":460,"y2":553},{"b":7,"x":867,"x2":995,"y":460,"y2":553},{"b":8,"x":995,"x2":1124,"y":460,"y2":553},{"b":9,"x":1124,"x2":1252,"y":460,"y2":553},{"b":10,"x":1252,"x2":1317,"y":460,"y2":553}]},"mark":{"type":"rect","stroke":"#222","strokeWidth":1},"encoding":{"x2":{"field":"x2"},"y2":{"field":"y2"},"color":{"field":"b","type":"ordinal","legend":null}}},
{"data":{"values":[{"x":93,"y":605,"t":"0.10"},{"x":222,"y":605,"t":"0.17"},{"x":351,"y":605,"t":"0.25"},{"x":480,"y":605,"t":"0.32"},{"x":609,"y":605,"t":"0.40"},{"x":738,"y":605,"t":"0.47"},{"x":865,"y":605,"t":"0.55"},{"x":994,"y":605,"t":"0.62"},{"x":1123,"y":605,"t":"0.70"},{"x":1252,"y":605,"t":"0.77"}]},"mark":{"type":"text","font":"Liberation Serif","fontSize":19,"color":"#111"},"encoding":{"text":{"field":"t"}}},
{"data":{"values":[{"x":1055,"x2":1355,"y":22,"y2":135}]},"mark":{"type":"rect","fill":"white","stroke":"#111","strokeWidth":1.5},"encoding":{"x2":{"field":"x2"},"y2":{"field":"y2"}}},
{"data":{"values":[{"x":1095,"y":105,"t":"σ"}]},"mark":{"type":"text","align":"left","baseline":"alphabetic","font":"Liberation Serif","fontStyle":"italic","fontSize":26,"color":"#111"},"encoding":{"text":{"field":"t"}}},
{"data":{"values":[{"x":1137,"y":105,"t":"3"}]},"mark":{"type":"text","align":"left","baseline":"alphabetic","font":"Liberation Serif","fontSize":12,"color":"#111"},"encoding":{"text":{"field":"t"}}},
{"data":{"values":[{"x":1155,"y":105,"t":"(MPa)"}]},"mark":{"type":"text","align":"left","baseline":"alphabetic","font":"Liberation Serif","fontSize":21,"color":"#111"},"encoding":{"text":{"field":"t"}}}
]},
{"encoding":{"x":{"field":"x","type":"quantitative","axis":null,"scale":{"domain":[-75,2781],"nice":false,"zero":false}},"y":{"field":"y","type":"quantitative","axis":null,"scale":{"domain":[720,-1461],"nice":false,"zero":false}}},
"layer":[
{"data":{"name":"c1"},"mark":{"type":"area","interpolate":"linear"},"encoding":{"y2":{"field":"y2"},"detail":{"field":"id"},"color":{"field":"b","type":"ordinal","legend":null}}},
{"data":{"name":"m1"},"mark":{"type":"rule","color":"white","opacity":0.3,"strokeWidth":0.7},"encoding":{"x2":{"field":"x2"},"y2":{"field":"y2"}}},
{"data":{"values":[{"x":41,"y":407,"y2":473},{"x":622,"y":407,"y2":473},{"x":710,"y":465,"y2":473},{"x":1185,"y":465,"y2":473},{"x":1375,"y":318,"y2":473},{"x":1381,"y":318,"y2":473}]},"mark":{"type":"area","color":"white"},"encoding":{"y2":{"field":"y2"}}},
{"data":{"values":[{"n":1,"x":47,"y":407},{"n":2,"x":710,"y":38},{"n":3,"x":873,"y":38},{"n":4,"x":1375,"y":318},{"n":5,"x":1185,"y":465},{"n":6,"x":710,"y":465},{"n":7,"x":622,"y":407},{"n":8,"x":47,"y":407}]},"mark":{"type":"line","color":"#111","strokeWidth":1.2},"encoding":{"order":{"field":"n"}}},
{"data":{"values":[{"b":0,"x":40,"x2":107,"y":474,"y2":569},{"b":1,"x":107,"x2":239,"y":474,"y2":569},{"b":2,"x":239,"x2":369,"y":474,"y2":569},{"b":3,"x":369,"x2":499,"y":474,"y2":569},{"b":4,"x":499,"x2":631,"y":474,"y2":569},{"b":5,"x":631,"x2":761,"y":474,"y2":569},{"b":6,"x":761,"x2":892,"y":474,"y2":569},{"b":7,"x":892,"x2":1023,"y":474,"y2":569},{"b":8,"x":1023,"x2":1153,"y":474,"y2":569},{"b":9,"x":1153,"x2":1285,"y":474,"y2":569},{"b":10,"x":1285,"x2":1350,"y":474,"y2":569}]},"mark":{"type":"rect","stroke":"#222","strokeWidth":1},"encoding":{"x2":{"field":"x2"},"y2":{"field":"y2"},"color":{"field":"b","type":"ordinal","legend":null}}},
{"data":{"values":[{"x":105,"y":622,"t":"0.20"},{"x":237,"y":622,"t":"0.42"},{"x":368,"y":622,"t":"0.64"},{"x":498,"y":622,"t":"0.87"},{"x":632,"y":622,"t":"1.09"},{"x":762,"y":622,"t":"1.31"},{"x":892,"y":622,"t":"1.53"},{"x":1023,"y":622,"t":"1.76"},{"x":1155,"y":622,"t":"1.98"},{"x":1284,"y":622,"t":"2.20"},{"x":68,"y":685,"t":"(c)"}]},"mark":{"type":"text","font":"Liberation Serif","fontSize":19,"color":"#111"},"encoding":{"text":{"field":"t"}}},
{"data":{"values":[{"x":1062,"x2":1363,"y":-3,"y2":108}]},"mark":{"type":"rect","fill":"white","stroke":"#111","strokeWidth":1.5},"encoding":{"x2":{"field":"x2"},"y2":{"field":"y2"}}},
{"data":{"values":[{"x":1103,"y":79,"t":"σ"}]},"mark":{"type":"text","align":"left","baseline":"alphabetic","font":"Liberation Serif","fontStyle":"italic","fontSize":26,"color":"#111"},"encoding":{"text":{"field":"t"}}},
{"data":{"values":[{"x":1145,"y":79,"t":"1"}]},"mark":{"type":"text","align":"left","baseline":"alphabetic","font":"Liberation Serif","fontSize":12,"color":"#111"},"encoding":{"text":{"field":"t"}}},
{"data":{"values":[{"x":1160,"y":79,"t":"(MPa)"}]},"mark":{"type":"text","align":"left","baseline":"alphabetic","font":"Liberation Serif","fontSize":21,"color":"#111"},"encoding":{"text":{"field":"t"}}}
]},
{"encoding":{"x":{"field":"x","type":"quantitative","axis":null,"scale":{"domain":[-1440,1416],"nice":false,"zero":false}},"y":{"field":"y","type":"quantitative","axis":null,"scale":{"domain":[720,-1461],"nice":false,"zero":false}}},
"layer":[
{"data":{"name":"c3"},"mark":{"type":"area","interpolate":"linear"},"encoding":{"y2":{"field":"y2"},"detail":{"field":"id"},"color":{"field":"b","type":"ordinal","legend":null}}},
{"data":{"name":"m3"},"mark":{"type":"rule","color":"white","opacity":0.3,"strokeWidth":0.7},"encoding":{"x2":{"field":"x2"},"y2":{"field":"y2"}}},
{"data":{"values":[{"x":14,"y":403,"y2":468},{"x":600,"y":403,"y2":468},{"x":688,"y":461,"y2":468},{"x":1163,"y":461,"y2":468},{"x":1357,"y":312,"y2":468},{"x":1363,"y":312,"y2":468}]},"mark":{"type":"area","color":"white"},"encoding":{"y2":{"field":"y2"}}},
{"data":{"values":[{"n":1,"x":20,"y":403},{"n":2,"x":688,"y":32},{"n":3,"x":850,"y":32},{"n":4,"x":1357,"y":312},{"n":5,"x":1163,"y":461},{"n":6,"x":688,"y":461},{"n":7,"x":600,"y":403},{"n":8,"x":20,"y":403}]},"mark":{"type":"line","color":"#111","strokeWidth":1.2},"encoding":{"order":{"field":"n"}}},
{"data":{"values":[{"b":0,"x":22,"x2":89,"y":469,"y2":565},{"b":1,"x":89,"x2":220,"y":469,"y2":565},{"b":2,"x":220,"x2":352,"y":469,"y2":565},{"b":3,"x":352,"x2":484,"y":469,"y2":565},{"b":4,"x":484,"x2":615,"y":469,"y2":565},{"b":5,"x":615,"x2":746,"y":469,"y2":565},{"b":6,"x":746,"x2":878,"y":469,"y2":565},{"b":7,"x":878,"x2":1010,"y":469,"y2":565},{"b":8,"x":1010,"x2":1142,"y":469,"y2":565},{"b":9,"x":1142,"x2":1273,"y":469,"y2":565},{"b":10,"x":1273,"x2":1339,"y":469,"y2":565}]},"mark":{"type":"rect","stroke":"#222","strokeWidth":1},"encoding":{"x2":{"field":"x2"},"y2":{"field":"y2"},"color":{"field":"b","type":"ordinal","legend":null}}},
{"data":{"values":[{"x":88,"y":620,"t":"0.10"},{"x":218,"y":620,"t":"0.16"},{"x":350,"y":620,"t":"0.22"},{"x":481,"y":620,"t":"0.28"},{"x":613,"y":620,"t":"0.34"},{"x":745,"y":620,"t":"0.39"},{"x":877,"y":620,"t":"0.45"},{"x":1008,"y":620,"t":"0.51"},{"x":1140,"y":620,"t":"0.57"},{"x":1271,"y":620,"t":"0.63"}]},"mark":{"type":"text","font":"Liberation Serif","fontSize":19,"color":"#111"},"encoding":{"text":{"field":"t"}}},
{"data":{"values":[{"x":1055,"x2":1355,"y":-3,"y2":112}]},"mark":{"type":"rect","fill":"white","stroke":"#111","strokeWidth":1.5},"encoding":{"x2":{"field":"x2"},"y2":{"field":"y2"}}},
{"data":{"values":[{"x":1095,"y":81,"t":"σ"}]},"mark":{"type":"text","align":"left","baseline":"alphabetic","font":"Liberation Serif","fontStyle":"italic","fontSize":26,"color":"#111"},"encoding":{"text":{"field":"t"}}},
{"data":{"values":[{"x":1137,"y":81,"t":"3"}]},"mark":{"type":"text","align":"left","baseline":"alphabetic","font":"Liberation Serif","fontSize":12,"color":"#111"},"encoding":{"text":{"field":"t"}}},
{"data":{"values":[{"x":1155,"y":81,"t":"(MPa)"}]},"mark":{"type":"text","align":"left","baseline":"alphabetic","font":"Liberation Serif","fontSize":21,"color":"#111"},"encoding":{"text":{"field":"t"}}}
]}
]}
